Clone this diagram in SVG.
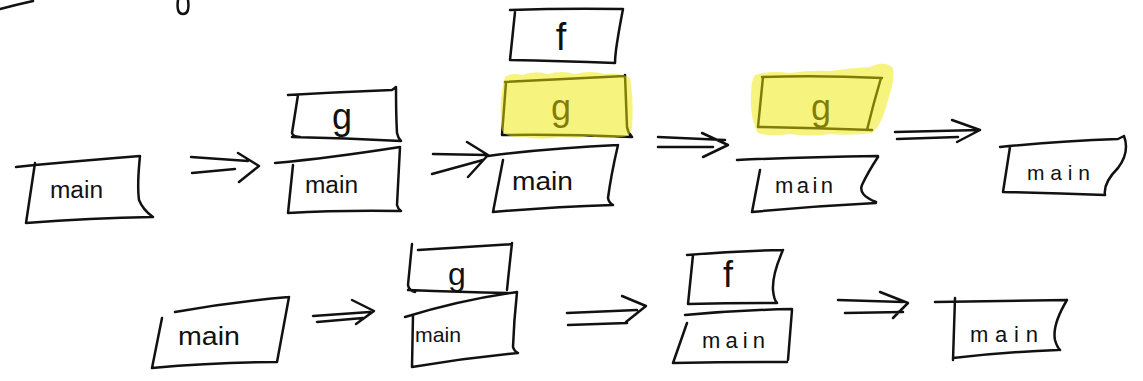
<svg xmlns="http://www.w3.org/2000/svg" width="1143" height="381" viewBox="0 0 1143 381">
  <style>
    .pen { fill: none; stroke: #111; stroke-width: 2.5; stroke-linecap: round; stroke-linejoin: round; }
    .hl { fill: #f0e800; opacity: 0.5; }
    .lbl { font-family: "Liberation Sans", "DejaVu Sans", sans-serif; fill: #111; }
    .fn { font-family: "Liberation Sans", "DejaVu Sans", sans-serif; fill: #111; text-anchor: middle; }
  </style>
  <rect width="1143" height="381" fill="#ffffff"/>

  <!-- stray pen strokes along the top edge -->
  <g id="edge-strokes">
    <path class="pen" d="M0,9 Q15,5 33,1"/>
    <path class="pen" d="M178,0 Q176,14 183,14 Q190,14 188,0"/>
  </g>

  <!-- ===== top row ===== -->
  <g id="t1-main">
    <path class="pen" d="M16,167 L35,165 Q90,160 140,156 M35,163 L26,223 M26,223 Q90,218 153,217 M140,156 Q137,185 139,200 Q143,210 153,217"/>
    <text class="lbl" x="50" y="198" font-size="23" textLength="53" lengthAdjust="spacingAndGlyphs">main</text>
  </g>

  <g id="t2-g">
    <path class="pen" d="M288,95 Q340,92 392,90 Q395,88 396,87 M298,95 L292,133 Q293,137 300,137 M292,137 Q345,138 401,141 M396,88 Q396,115 397,133 Q398,138 401,141"/>
    <text class="fn" x="342" y="129" font-size="36">g</text>
  </g>
  <g id="t2-main">
    <path class="pen" d="M275,163 Q330,158 400,147 M293,165 L288,213 M288,213 Q340,210 401,211 M400,147 L397,205 Q398,209 401,211"/>
    <text class="lbl" x="305" y="193" font-size="23" textLength="53" lengthAdjust="spacingAndGlyphs">main</text>
  </g>

  <g id="t3-f">
    <path class="pen" d="M510,10 Q565,8 623,9 M515,12 L510,60 M510,60 Q560,61 615,63 M623,9 Q618,35 616,50 Q615,58 615,63"/>
    <text class="fn" x="561" y="50" font-size="38">f</text>
  </g>
  <g id="t3-g">
    <path class="pen" d="M505,82 Q565,79 625,76 M506,82 L502,135 M502,135 Q565,134 632,137 M625,75 Q626,100 627,127 Q628,133 632,137"/>
    <text class="fn" x="561" y="120" font-size="36">g</text>
    <path class="hl" d="M505,77 Q512,72 522,75 Q535,70 548,74 Q562,70 575,74 Q590,70 605,74 Q620,72 630,78 Q634,100 632,128 Q630,138 620,137 Q605,140 590,136 Q575,139 560,137 Q540,140 525,137 Q505,138 502,130 Q498,100 505,77 Z"/>
  </g>
  <g id="t3-main">
    <path class="pen" d="M488,156 Q550,148 618,145 M503,160 L493,212 M493,212 Q550,207 613,205 M618,145 Q611,175 608,198 Q609,203 613,205"/>
    <text class="lbl" x="512" y="190" font-size="26" textLength="61" lengthAdjust="spacingAndGlyphs">main</text>
  </g>

  <g id="t4-g">
    <path class="pen" d="M762,77 Q820,75 882,78 M763,77 L758,127 M758,127 Q815,128 872,130 M881,78 Q873,105 867,130"/>
    <text class="fn" x="821" y="120" font-size="36">g</text>
    <path class="hl" d="M755,75 Q770,70 790,73 Q810,70 830,71 Q850,68 870,67 Q885,60 893,68 Q895,80 888,100 Q882,125 872,133 Q850,136 830,134 Q810,137 790,134 Q770,137 758,133 Q750,120 751,95 Q751,80 755,75 Z"/>
  </g>
  <g id="t4-main">
    <path class="pen" d="M737,160 Q800,157 878,156 M760,170 L752,212 M752,212 Q815,206 876,203 M878,157 Q868,172 862,185 Q858,195 876,202"/>
    <text class="lbl" x="775" y="193" font-size="22" textLength="58" lengthAdjust="spacing">main</text>
  </g>

  <g id="t5-main">
    <path class="pen" d="M1000,147 Q1060,141 1118,139 Q1122,137 1124,136 M1010,147 L1003,192 M1003,192 Q1055,193 1105,195 M1124,136 Q1130,152 1118,168 Q1103,183 1105,195"/>
    <text class="lbl" x="1027" y="180" font-size="21" textLength="63" lengthAdjust="spacing">main</text>
  </g>

  <!-- ===== bottom row ===== -->
  <g id="b1-main">
    <path class="pen" d="M175,312 Q230,302 289,297 M162,318 L152,368 M152,368 Q215,362 277,362 M289,297 Q283,330 277,362"/>
    <text class="lbl" x="178" y="345" font-size="26" textLength="62" lengthAdjust="spacingAndGlyphs">main</text>
  </g>

  <g id="b2-g">
    <path class="pen" d="M418,250 Q465,247 512,244 M412,244 L408,285 Q409,291 415,292 M408,290 Q460,292 508,293 M512,243 Q509,270 507,290"/>
    <text class="fn" x="457" y="285" font-size="32">g</text>
  </g>
  <g id="b2-main">
    <path class="pen" d="M405,317 Q460,300 517,292 M413,315 L412,367 M412,367 Q465,358 518,353 M517,292 Q514,320 513,347 Q514,351 518,353"/>
    <text class="lbl" x="415" y="342" font-size="21" textLength="46" lengthAdjust="spacingAndGlyphs">main</text>
  </g>

  <g id="b3-f">
    <path class="pen" d="M687,255 Q735,251 783,250 M693,255 L688,304 M688,304 Q732,303 777,303 M783,250 Q772,275 773,290 Q774,300 777,303"/>
    <text class="fn" x="728" y="287" font-size="36">f</text>
  </g>
  <g id="b3-main">
    <path class="pen" d="M685,315 Q740,310 792,309 M687,323 L673,363 M673,363 Q730,362 787,362 M792,310 L788,360"/>
    <text class="lbl" x="702" y="348" font-size="22" textLength="63" lengthAdjust="spacing">main</text>
  </g>

  <g id="b4-main">
    <path class="pen" d="M935,302 Q1000,301 1067,300 M955,298 L953,360 M953,358 Q1005,352 1058,350 M1067,300 Q1052,325 1055,340 Q1057,347 1060,350"/>
    <text class="lbl" x="970" y="342" font-size="22" textLength="68" lengthAdjust="spacing">main</text>
  </g>

  <!-- transition arrows (double-line "implies" arrows) -->
  <g id="connectors">
    <path class="pen" d="M191,157 L248,161 M192,173 L235,169 M238,153 L259,166 L239,182"/>
    <path class="pen" d="M433,154 L487,155 M432,174 L483,160 M467,142 L488,155 L468,177"/>
    <path class="pen" d="M658,137 L725,140 M658,147 L713,147 M702,133 L728,145 L703,157"/>
    <path class="pen" d="M895,132 L980,130 M897,139 L958,137 M952,120 L980,130 L957,142"/>
    <path class="pen" d="M313,316 L370,312 M317,322 L363,318 M352,300 L374,311 L356,324"/>
    <path class="pen" d="M567,313 L637,310 M568,325 L627,323 M622,296 L646,306 L626,322"/>
    <path class="pen" d="M838,300 L903,302 M845,313 L903,312 M880,292 L908,303 L893,318"/>
  </g>
</svg>
